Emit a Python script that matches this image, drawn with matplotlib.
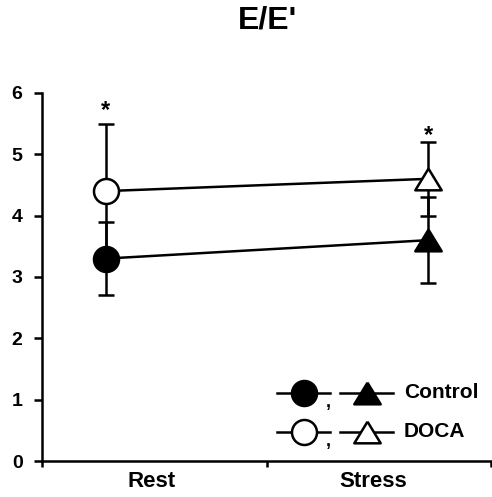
import matplotlib
matplotlib.use("Agg")
import matplotlib.pyplot as plt

plt.rcParams['font.family'] = ['Liberation Sans', 'DejaVu Sans']
plt.rcParams['font.weight'] = 'bold'

# Data
conditions = ["Rest", "Stress"]
control_mean = [3.3, 3.6]
control_err = [0.6, 0.7]
doca_mean = [4.4, 4.6]
doca_err = [1.1, 0.6]
significance = ["*", "*"]
y_ticks = [0, 1, 2, 3, 4, 5, 6]

x_pos = [0.285, 1.72]
label_pos = [0.49, 1.475]
star_offset = [0.1, 0.0]

fig = plt.figure(figsize=(4.92, 4.97), dpi=100)
ax = fig.add_axes([0.0854, 0.0724, 0.9126, 0.7406])

lw = 1.8
# Error bars behind the markers
for mean, err in ((control_mean, control_err), (doca_mean, doca_err)):
    ax.errorbar(x_pos, mean, yerr=err, fmt="none", ecolor="black",
                elinewidth=lw, capsize=5.5, capthick=lw, zorder=1)

# Slightly flattened triangle marker
tri = [(0, 0.82), (-1, -0.82), (1, -0.82), (0, 0.82)]
ms_c, ms_t = 18, 19
# Control: filled markers
ax.plot(x_pos, control_mean, color="black", lw=lw, zorder=2)
ax.plot(x_pos[0], control_mean[0], marker="o", ms=ms_c, mfc="black", mec="black", mew=lw, zorder=3)
ax.plot(x_pos[1], control_mean[1], marker=tri, ms=ms_t, mfc="black", mec="black", mew=lw, zorder=3)
# DOCA: open markers
ax.plot(x_pos, doca_mean, color="black", lw=lw, zorder=2)
ax.plot(x_pos[0], doca_mean[0], marker="o", ms=ms_c, mfc="white", mec="black", mew=lw, zorder=3)
ax.plot(x_pos[1], doca_mean[1], marker=tri, ms=ms_t, mfc="white", mec="black", mew=lw, zorder=3)

# Significance marks above the DOCA error bars
for x, m, e, s, off in zip(x_pos, doca_mean, doca_err, significance, star_offset):
    ax.text(x, m + e + off, s, ha="center", va="baseline", fontsize=17, fontweight="bold")

# Axes styling
ax.set_xlim(0, 2)
ax.set_ylim(0, 6)
ax.set_yticks(y_ticks)
ax.set_yticklabels([str(t) for t in y_ticks], fontsize=14, fontweight="bold")
ax.set_xticks([0, 1, 2])
ax.set_xticklabels([])
ax.set_xticks(label_pos, minor=True)
ax.set_xticklabels(conditions, minor=True, fontsize=16, fontweight="bold")
ax.tick_params(axis="x", which="minor", length=0, pad=7)
ax.tick_params(axis="x", which="major", length=4, width=lw, direction="out")
ax.tick_params(axis="y", length=6, width=lw, direction="out", pad=8)
for side in ("top", "right"):
    ax.spines[side].set_visible(False)
for side in ("left", "bottom"):
    ax.spines[side].set_linewidth(lw)
    ax.spines[side].set_capstyle("projecting")

# Legend drawn as marker pairs
tr = ax.transAxes
rows = [(0.185, "black", "Control"), (0.079, "white", "DOCA")]
for y, face, label in rows:
    ax.plot([0.523, 0.641], [y, y], color="black", lw=lw, transform=tr, clip_on=False)
    ax.plot([0.584], [y], marker="o", ms=ms_c, mfc=face, mec="black", mew=lw, transform=tr, clip_on=False)
    ax.text(0.637, y - 0.025, ",", transform=tr, ha="center", va="center", fontsize=13, fontweight="bold")
    ax.plot([0.664, 0.782], [y, y], color="black", lw=lw, transform=tr, clip_on=False)
    ax.plot([0.724], [y], marker=tri, ms=ms_t, mfc=face, mec="black", mew=lw, transform=tr, clip_on=False)
    ax.text(0.806, y, label, transform=tr, ha="left", va="center", fontsize=15, fontweight="bold")

fig.text(0.543, 0.958, "E/E'", ha="center", va="center", fontsize=23, fontweight="bold")

fig.savefig("out.png", dpi=100)
